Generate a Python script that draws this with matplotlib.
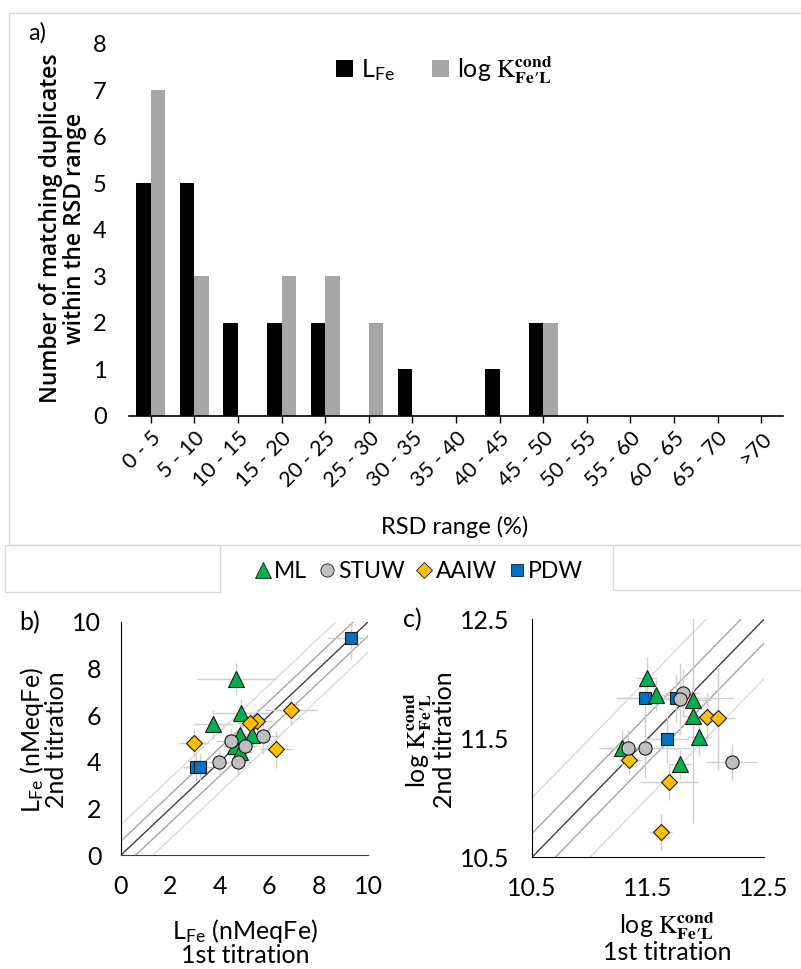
import matplotlib.pyplot as plt
import numpy as np
from matplotlib.lines import Line2D
from matplotlib.patches import Rectangle

plt.rcParams['font.family'] = ['Lato', 'DejaVu Sans']
plt.rcParams['mathtext.fontset'] = 'stix'
plt.rcParams['font.size'] = 16

W, H = 801, 969

# panel a: histogram of RSD between duplicate titrations
rsd_bins = ['0 - 5', '5 - 10', '10 - 15', '15 - 20', '20 - 25', '25 - 30', '30 - 35',
            '35 - 40', '40 - 45', '45 - 50', '50 - 55', '55 - 60', '60 - 65', '65 - 70', '>70']
lfe_counts = [5, 5, 2, 2, 2, 0, 1, 0, 1, 2, 0, 0, 0, 0, 0]
logk_counts = [7, 3, 0, 3, 3, 2, 0, 0, 0, 2, 0, 0, 0, 0, 0]

# panel b: LFe 1st vs 2nd titration
b_ml_x = [4.67, 3.74, 4.87, 4.82, 5.29, 4.62, 4.82]
b_ml_y = [7.55, 5.62, 6.08, 5.15, 5.17, 4.68, 4.43]
b_ml_xerr = [1.6, 0.8, 1.1, 0.6, 0.6, 0.5, 0.5]
b_ml_yerr = [0.7, 0.6, 0.6, 0.6, 0.5, 0.5, 0.6]
b_stuw_x = [4.44, 5.02, 5.75, 3.98, 4.75]
b_stuw_y = [4.90, 4.69, 5.12, 4.01, 4.01]
b_stuw_xerr = [0.6, 0.5, 0.7, 0.5, 0.5]
b_stuw_yerr = [0.5, 0.6, 0.8, 0.5, 0.6]
b_aaiw_x = [2.96, 6.86, 5.52, 5.21, 6.28]
b_aaiw_y = [4.79, 6.23, 5.75, 5.67, 4.54]
b_aaiw_xerr = [0.6, 1.05, 0.6, 0.5, 0.65]
b_aaiw_yerr = [0.6, 0.6, 0.5, 0.5, 0.8]
b_pdw_x = [9.29, 3.03, 3.19]
b_pdw_y = [9.29, 3.80, 3.80]
b_pdw_xerr = [0.9, 0.5, 0.5]
b_pdw_yerr = [0.9, 0.6, 0.6]

# panel c: log K 1st vs 2nd titration
c_ml_x = [11.49, 11.57, 11.89, 11.89, 11.94, 11.78, 11.28]
c_ml_y = [12.01, 11.86, 11.82, 11.69, 11.51, 11.28, 11.42]
c_ml_xerr = [0.09, 0.12, 0.15, 0.1, 0.1, 0.1, 0.15]
c_ml_yerr = [0.17, 0.13, 0.15, 0.9, 0.15, 0.12, 0.15]
c_stuw_x = [11.80, 11.78, 11.33, 11.47, 12.22]
c_stuw_y = [11.88, 11.83, 11.42, 11.42, 11.30]
c_stuw_xerr = [0.15, 0.15, 0.15, 0.39, 0.22]
c_stuw_yerr = [0.2, 0.3, 0.15, 0.25, 0.15]
c_aaiw_x = [11.34, 12.01, 12.10, 11.68, 11.61]
c_aaiw_y = [11.32, 11.68, 11.67, 11.13, 10.71]
c_aaiw_xerr = [0.1, 0.15, 0.15, 0.25, 0.1]
c_aaiw_yerr = [0.12, 0.2, 0.44, 0.15, 0.15]
c_pdw_x = [11.47, 11.74, 11.66]
c_pdw_y = [11.84, 11.84, 11.49]
c_pdw_xerr = [0.25, 0.5, 0.19]
c_pdw_yerr = [0.2, 0.2, 0.2]

K_LABEL = r'log $\mathrm{K}^{\mathbf{cond}}_{\mathbf{Fe\prime L}}$'
LFE_LABEL = r'L$_{\mathregular{Fe}}$'

STYLES = {
    'ML': dict(marker='^', color='#00B050', ms=11),
    'STUW': dict(marker='o', color='#BFBFBF', ms=9.5),
    'AAIW': dict(marker='D', color='#FFC000', ms=8),
    'PDW': dict(marker='s', color='#0070C0', ms=9),
}


def fx(px):
    return px / W


def fy(py):
    return 1 - py / H


def rect(l, t, r, b):
    return [fx(l), fy(b), fx(r) - fx(l), fy(t) - fy(b)]


fig = plt.figure(figsize=(W / 100, H / 100), dpi=100)

# light frames left over from the spreadsheet layout
for l, t, r, b in [(9, 13, 805, 545), (5, 545, 220, 592), (613, 545, 805, 590)]:
    fig.add_artist(Rectangle((fx(l), fy(b)), fx(r) - fx(l), fy(t) - fy(b),
                             transform=fig.transFigure, fill=False, ec='#D9D9D9', lw=1))

# ---- panel a
ax = fig.add_axes(rect(129, 43.8, 783, 415.6))
x = np.arange(len(rsd_bins))
w = 1 / 3
ax.bar(x - w / 2, lfe_counts, w, color='black', label=LFE_LABEL)
ax.bar(x + w / 2, logk_counts, w, color='#A6A6A6', label=K_LABEL)
ax.set_xlim(-0.5, len(rsd_bins) - 0.5)
ax.set_ylim(0, 8)
ax.set_yticks(range(0, 9))
ax.set_xticks(x)
ax.set_xticklabels(rsd_bins, rotation=45, ha='right', rotation_mode='anchor')
for s in ['left', 'top', 'right']:
    ax.spines[s].set_visible(False)
ax.spines['bottom'].set_linewidth(1.2)
ax.tick_params(axis='y', length=0, pad=16, labelsize=17)
ax.tick_params(axis='x', length=5, width=1, pad=4, labelsize=15.5)
fig.legend(*ax.get_legend_handles_labels(), loc='center', bbox_to_anchor=(fx(444), fy(70)),
           ncol=2, frameon=False, handlelength=0.7, handleheight=0.7, handletextpad=0.3,
           columnspacing=1.5, fontsize=18)
fig.text(fx(63), fy(228), 'Number of matching duplicates\nwithin the RSD range', rotation=90,
         ha='center', va='center', family='Open Sans', fontweight='semibold', fontsize=16.5,
         linespacing=0.95)
fig.text(fx(455), fy(527), 'RSD range (%)', ha='center', va='center', fontsize=17)
fig.text(fx(37), fy(33), 'a)', ha='center', va='center', fontsize=17)


def scatter_panel(ax, data, offsets, lim):
    lo, hi = lim
    ax.plot([lo, hi], [lo, hi], color='#404040', lw=1, zorder=1)
    for o, c in zip(offsets, ['#A6A6A6', '#D9D9D9']):
        ax.plot([lo, hi], [lo + o, hi + o], color=c, lw=1, zorder=1)
        ax.plot([lo, hi], [lo - o, hi - o], color=c, lw=1, zorder=1)
    for name, (xs, ys, xe, ye) in data.items():
        ax.errorbar(xs, ys, xerr=xe, yerr=ye, fmt='none', ecolor='#CFCFCF', elinewidth=1,
                    capsize=0, zorder=2)
    for z, name in enumerate(['PDW', 'ML', 'AAIW', 'STUW']):
        xs, ys, xe, ye = data[name]
        st = STYLES[name]
        ax.plot(xs, ys, ls='none', marker=st['marker'], ms=st['ms'], mfc=st['color'],
                mec='#1a1a1a', mew=0.8, zorder=3 + z)
    ax.set_xlim(lo, hi)
    ax.set_ylim(lo, hi)
    for s in ['top', 'right']:
        ax.spines[s].set_visible(False)
    ax.spines['left'].set_color('black')
    ax.spines['bottom'].set_color('#404040')


# ---- panel b
axb = fig.add_axes(rect(120.7, 621.7, 368.3, 855.3))
scatter_panel(axb, {
    'ML': (b_ml_x, b_ml_y, b_ml_xerr, b_ml_yerr),
    'STUW': (b_stuw_x, b_stuw_y, b_stuw_xerr, b_stuw_yerr),
    'AAIW': (b_aaiw_x, b_aaiw_y, b_aaiw_xerr, b_aaiw_yerr),
    'PDW': (b_pdw_x, b_pdw_y, b_pdw_xerr, b_pdw_yerr),
}, [0.6, 1.3], (0, 10))
axb.set_xticks(range(0, 11, 2))
axb.set_yticks(range(0, 11, 2))
axb.tick_params(axis='y', length=0, pad=14, labelsize=18)
axb.tick_params(axis='x', length=0, pad=14, labelsize=18)
fig.text(fx(43), fy(740), LFE_LABEL + ' (nMeqFe)\n2nd titration', rotation=90,
         ha='center', va='center', fontsize=18, linespacing=0.95)
fig.text(fx(245), fy(942), LFE_LABEL + ' (nMeqFe)\n1st titration',
         ha='center', va='center', fontsize=18, linespacing=0.95)
fig.text(fx(30), fy(623), 'b)', ha='center', va='center', fontsize=18)

# ---- panel c
axc = fig.add_axes(rect(532, 619.3, 764, 857.3))
scatter_panel(axc, {
    'ML': (c_ml_x, c_ml_y, c_ml_xerr, c_ml_yerr),
    'STUW': (c_stuw_x, c_stuw_y, c_stuw_xerr, c_stuw_yerr),
    'AAIW': (c_aaiw_x, c_aaiw_y, c_aaiw_xerr, c_aaiw_yerr),
    'PDW': (c_pdw_x, c_pdw_y, c_pdw_xerr, c_pdw_yerr),
}, [0.2, 0.5], (10.5, 12.5))
axc.spines['bottom'].set_color('black')
axc.set_xticks([10.5, 11.5, 12.5])
axc.set_yticks([10.5, 11.5, 12.5])
axc.tick_params(axis='y', length=0, pad=16, labelsize=18)
axc.tick_params(axis='x', length=0, pad=14, labelsize=18)
fig.text(fx(429), fy(740), K_LABEL + '\n2nd titration', rotation=90,
         ha='center', va='center', fontsize=18, linespacing=0.95)
fig.text(fx(667), fy(937), K_LABEL + '\n1st titration',
         ha='center', va='center', fontsize=18, linespacing=0.95)
fig.text(fx(412), fy(620), 'c)', ha='center', va='center', fontsize=18)

# ---- shared water-mass legend
handles = [Line2D([], [], ls='none', marker=STYLES[n]['marker'], mfc=STYLES[n]['color'],
                  mec='#1a1a1a', mew=0.6, ms=STYLES[n]['ms'], label=n)
           for n in ['ML', 'STUW', 'AAIW', 'PDW']]
fig.legend(handles=handles, loc='center', bbox_to_anchor=(fx(419), fy(572)), ncol=4,
           frameon=False, handlelength=0.7, handletextpad=0.15, columnspacing=0.5, fontsize=16.5)

fig.savefig('out.png', dpi=100)
